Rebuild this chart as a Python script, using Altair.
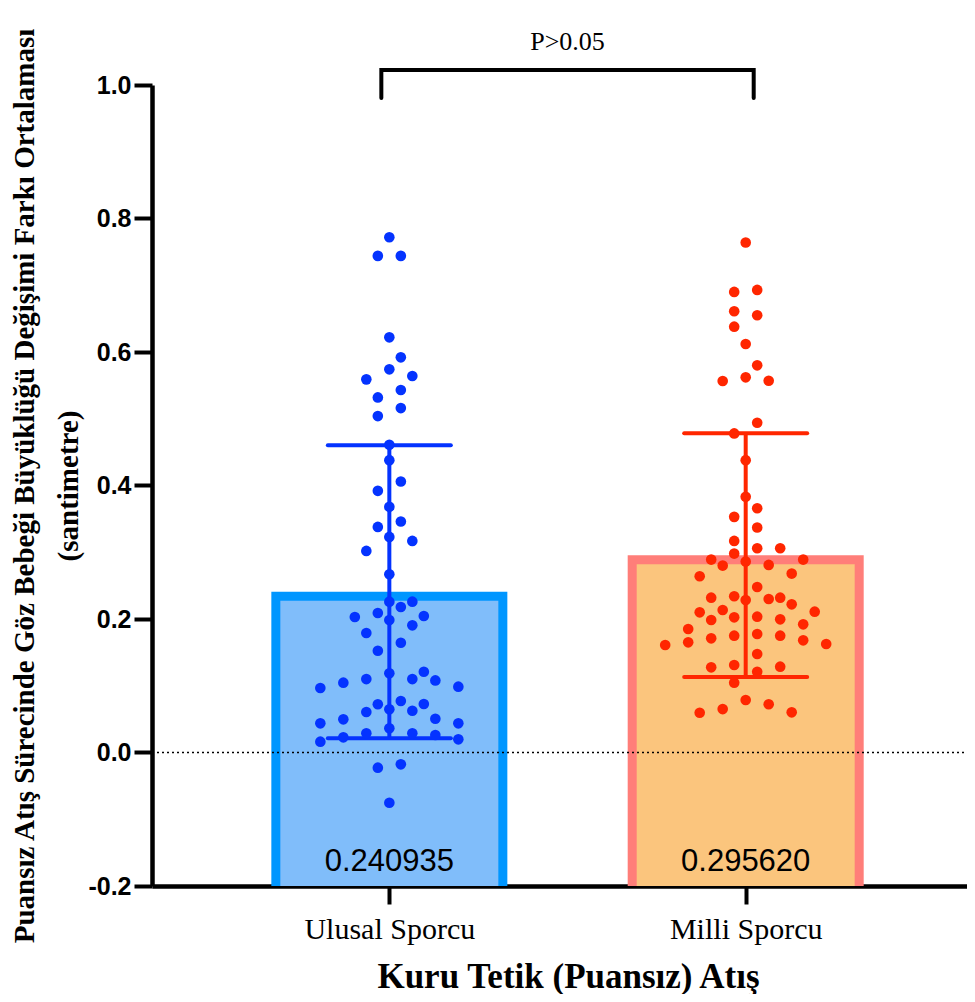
import altair as alt
import pandas as pd
import math

# ---------------- data ----------------
groups = ["Ulusal Sporcu", "Milli Sporcu"]
means = [0.240935, 0.295620]
sds = [0.2195, 0.1825]

ulusal = [0.772, 0.744, 0.744, 0.622, 0.592, 0.574, 0.564, 0.559, 0.543, 0.532,
          0.516, 0.504, 0.461, 0.438, 0.406, 0.392, 0.368, 0.346, 0.338, 0.323,
          0.317, 0.302, 0.267, 0.226, 0.226, 0.218, 0.209, 0.2045, 0.203, 0.1985,
          0.1905, 0.179, 0.1645, 0.1525, 0.1186, 0.110, 0.110, 0.108, 0.1046, 0.121,
          0.0986, 0.0966, 0.0727, 0.0722, 0.0772, 0.0607, 0.0647, 0.0626, 0.0506, 0.0497,
          0.0437, 0.0437, 0.0362, 0.0287, 0.0287, 0.0262, 0.0227, 0.0197, 0.0162, -0.0177,
          -0.0227, -0.0752]

milli = [0.764, 0.690, 0.693, 0.661, 0.655, 0.638, 0.612, 0.580, 0.557, 0.5566,
         0.562, 0.494, 0.478, 0.438, 0.383, 0.366, 0.353, 0.337, 0.306, 0.306,
         0.317, 0.298, 0.286, 0.281, 0.280, 0.289, 0.289, 0.268, 0.264, 0.248,
         0.234, 0.222, 0.232, 0.230, 0.232, 0.2285, 0.2135, 0.211, 0.210, 0.2025,
         0.2035, 0.1995, 0.1985, 0.185, 0.192, 0.1775, 0.171, 0.1625, 0.175, 0.175,
         0.161, 0.165, 0.168, 0.1476, 0.1286, 0.1276, 0.131, 0.121, 0.1046, 0.0787,
         0.0722, 0.0596, 0.0602, 0.065]

p_text = "P>0.05"
y_title = ["Puansız Atış Sürecinde Göz Bebeği Büyüklüğü Değişimi Farkı Ortalaması", "(santimetre)"]
x_title = "Kuru Tetik (Puansız) Atış"
y_ticks = [-0.2, 0.0, 0.2, 0.4, 0.6, 0.8, 1.0]

# ---------------- layout / style ----------------
W, H = 815, 801
YMIN, YMAX = -0.2, 1.0
XMIN, XMAX = 0.334, 2.621
px_x = W / (XMAX - XMIN)
px_y = H / (YMAX - YMIN)

bar_half_px = 118
border_px = 9
cap_half_px = 61.5
slot_px = 23
diam_px = 12.5

dot_colors = ["#0433ff", "#ff2600"]
border_colors = ["#0096ff", "#ff7e79"]
fill_colors = ["#80bdfa", "#fbc57d"]


def swarm(vals, bin_w=0.022):
    """Prism-like row based swarm; returns x offsets in pixels."""
    n = len(vals)
    order = sorted(range(n), key=lambda i: vals[i])
    rows, cur = [], []
    for i in order:
        if cur and vals[i] - vals[cur[0]] > bin_w:
            rows.append(cur)
            cur = []
        cur.append(i)
    rows.append(cur)
    offs = [0.0] * n
    placed = []
    for row in rows:
        m = len(row)
        base = [k - (m - 1) / 2 for k in range(m)]
        pos_order = []
        l, r = 0, m - 1
        while l <= r:
            pos_order.append(l)
            if l != r:
                pos_order.append(r)
            l += 1
            r -= 1
        chosen = None
        for shift in [0, 0.5, -0.5, 1, -1, 1.5, -1.5, 2, -2]:
            cand = [(base[pos_order[j]] + shift) * slot_px for j in range(m)]
            ok = True
            for j in range(m):
                yy = vals[row[j]] * px_y
                for (px, py) in placed:
                    if math.hypot(cand[j] - px, yy - py) < diam_px:
                        ok = False
                        break
                if not ok:
                    break
            if ok:
                chosen = cand
                break
        if chosen is None:
            chosen = [base[pos_order[j]] * slot_px for j in range(m)]
        for j in range(m):
            offs[row[j]] = chosen[j]
            placed.append((chosen[j], vals[row[j]] * px_y))
    return offs


centers = [1, 2]
dot_rows = []
for gi, vals in enumerate([ulusal, milli]):
    offs = swarm(vals)
    for v, o in zip(vals, offs):
        dot_rows.append({"g": groups[gi], "x": centers[gi] + o / px_x, "y": v,
                         "col": dot_colors[gi]})
dots = pd.DataFrame(dot_rows)

bars = pd.DataFrame({
    "g": groups,
    "x": [c - bar_half_px / px_x for c in centers],
    "x2": [c + bar_half_px / px_x for c in centers],
    "xi": [c - (bar_half_px - border_px) / px_x for c in centers],
    "xi2": [c + (bar_half_px - border_px) / px_x for c in centers],
    "y": means,
    "yi": [m - border_px / px_y for m in means],
    "y0": [YMIN, YMIN],
    "c": centers,
    "lo": [m - s for m, s in zip(means, sds)],
    "hi": [m + s for m, s in zip(means, sds)],
    "cl": [c - cap_half_px / px_x for c in centers],
    "cr": [c + cap_half_px / px_x for c in centers],
    "label": [f"{m:.6f}" for m in means],
    "bcol": border_colors,
    "fcol": fill_colors,
    "dcol": dot_colors,
})

xs = alt.Scale(domain=[XMIN, XMAX], nice=False, zero=False)
ys = alt.Scale(domain=[YMIN, YMAX], nice=False, zero=False)

x_axis = alt.Axis(
    values=centers,
    labelExpr="datum.value == 1 ? 'Ulusal Sporcu' : 'Milli Sporcu'",
    title=x_title, grid=False,
    domainWidth=4.5, domainColor="black", tickWidth=4, tickColor="black", tickSize=18,
    labelFont="Liberation Serif", labelFontSize=30, labelColor="black",
    labelBaseline="alphabetic", labelPadding=34,
    titleFont="Liberation Serif", titleFontSize=35, titleFontWeight="bold", titleColor="black",
    titleX=416, titleY=101, titleBaseline="alphabetic", titleAlign="center", titleLimit=2000,
)
y_axis = alt.Axis(
    values=y_ticks,
    labelExpr="datum.value < 0 ? '-' + format(abs(datum.value), '.1f') : format(datum.value, '.1f')",
    title=y_title, grid=False,
    domainWidth=4.5, domainColor="black", tickWidth=4, tickColor="black", tickSize=18,
    labelFont="Liberation Sans", labelFontSize=25, labelFontWeight="bold", labelColor="black",
    labelPadding=3,
    titleFont="Liberation Serif", titleFontSize=29, titleFontWeight="bold", titleColor="black",
    titleAngle=-90, titleX=-142, titleY=H / 2, titleBaseline="top", titleAlign="center",
    titleLineHeight=44, titleLimit=2000,
)


def X(f):
    return alt.X(f, scale=xs, axis=x_axis)


def Y(f):
    return alt.Y(f, scale=ys, axis=y_axis)


outer = alt.Chart(bars).mark_rect().encode(
    x=X("x:Q"), x2="x2", y=Y("y:Q"), y2="y0",
    color=alt.Color("bcol:N", scale=None),
)
inner = alt.Chart(bars).mark_rect().encode(
    x=X("xi:Q"), x2="xi2", y=Y("yi:Q"), y2="y0",
    color=alt.Color("fcol:N", scale=None),
)
zero = alt.Chart(pd.DataFrame({"y": [0.0], "x": [XMIN], "x2": [XMAX]})).mark_rule(
    color="black", strokeWidth=1.5, strokeDash=[2, 3]
).encode(x=X("x:Q"), x2="x2", y=Y("y:Q"))
pts = alt.Chart(dots).mark_circle(size=113, opacity=1).encode(
    x=X("x:Q"), y=Y("y:Q"), color=alt.Color("col:N", scale=None),
)
vbar = alt.Chart(bars).mark_rule(strokeWidth=4).encode(
    x=X("c:Q"), y=Y("lo:Q"), y2="hi", color=alt.Color("dcol:N", scale=None),
)
cap_hi = alt.Chart(bars).mark_rule(strokeWidth=4, strokeCap="round").encode(
    x=X("cl:Q"), x2="cr", y=Y("hi:Q"), color=alt.Color("dcol:N", scale=None),
)
cap_lo = alt.Chart(bars).mark_rule(strokeWidth=4, strokeCap="round").encode(
    x=X("cl:Q"), x2="cr", y=Y("lo:Q"), color=alt.Color("dcol:N", scale=None),
)
labels = alt.Chart(bars).mark_text(
    font="Liberation Sans", fontSize=31, color="black", baseline="alphabetic", dy=-15
).encode(x=X("c:Q"), y=Y("y0:Q"), text="label:N")

top = YMAX + 15 / px_y
leg = YMAX - 13 / px_y
bl, br = centers[0] - 8 / px_x, centers[1] + 8 / px_x
bracket_df = pd.DataFrame({"x": [bl, bl, br, br], "y": [leg, top, top, leg], "o": [0, 1, 2, 3]})
bracket = alt.Chart(bracket_df).mark_line(
    color="black", strokeWidth=4, strokeCap="round", strokeJoin="miter"
).encode(x=X("x:Q"), y=Y("y:Q"), order="o:Q")
ptxt = alt.Chart(pd.DataFrame({"x": [(centers[0] + centers[1]) / 2], "y": [top], "t": [p_text]})).mark_text(
    font="Liberation Serif", fontSize=26, color="black", baseline="alphabetic", dy=-20
).encode(x=X("x:Q"), y=Y("y:Q"), text="t:N")

chart = alt.layer(outer, inner, zero, vbar, cap_hi, cap_lo, pts, labels, bracket, ptxt).properties(
    width=W, height=H,
    autosize=alt.AutoSizeParams(type="none"),
    padding={"left": 144, "top": 77, "right": 0, "bottom": 108},
    view=alt.ViewBackground(stroke="transparent", strokeWidth=0),
).configure_view(stroke="transparent", strokeWidth=0).configure_axis(
    grid=False, gridColor="transparent"
).configure(background="white")

chart.save("out.html", embed_options={"renderer": "svg", "actions": False})
